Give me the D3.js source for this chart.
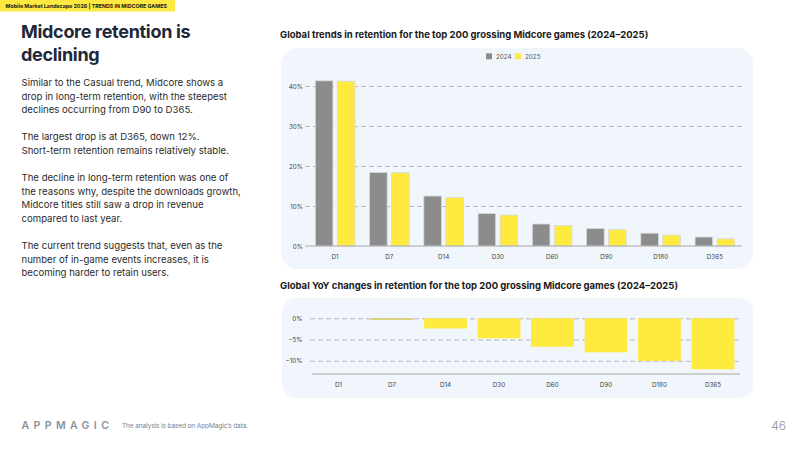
<!DOCTYPE html>
<html><head><meta charset="utf-8">
<script src="https://cdn.jsdelivr.net/npm/d3@7"></script>
<style>
html,body{margin:0;padding:0;background:#fff;}
svg{display:block;font-family:Inter,"Noto Sans",sans-serif;}
</style></head>
<body>
<svg id="c" width="800" height="450"></svg>
<script>
const categories = ["D1","D7","D14","D30","D60","D90","D180","D365"];
const seriesNames = ["2024","2025"];
const retention2024 = [41.3, 18.4, 12.5, 8.1, 5.5, 4.4, 3.2, 2.25];
const retention2025 = [41.2, 18.3, 12.1, 7.75, 5.1, 4.1, 2.75, 1.8];
const yoyChange = [0, -0.3, -2.4, -4.7, -6.7, -8.0, -10.0, -12.0];
const topTicks = [0, 10, 20, 30, 40];
const bottomTicks = [0, -5, -10];

const svg = d3.select("#c");
const GRAY = "#8c8c8c", YEL = "#ffea3f", BG = "#f1f6fc";

// header band
svg.append("rect").attr("x",0).attr("y",0).attr("width",175).attr("height",11.5).attr("fill","#ffe940");
svg.append("text").attr("x",5.5).attr("y",8.2).attr("font-size",5.3).attr("font-weight",700).attr("fill","#1a1a1a")
  .text("Mobile Market Landscape 2026 | TRENDS IN MIDCORE GAMES");

// title
const title = svg.append("text").attr("x",21).attr("font-size",18).attr("font-weight",700).attr("letter-spacing",-0.3).attr("fill","#222738");
title.append("tspan").attr("x",21).attr("y",38).text("Midcore retention is");
title.append("tspan").attr("x",21).attr("y",60.5).text("declining");

// body
const paras = [
  {y:86, lines:["Similar to the Casual trend, Midcore shows a","drop in long-term retention, with the steepest","declines occurring from D90 to D365."]},
  {y:140, lines:["The largest drop is at D365, down 12%.","Short-term retention remains relatively stable."]},
  {y:181, lines:["The decline in long-term retention was one of","the reasons why, despite the downloads growth,","Midcore titles still saw a drop in revenue","compared to last year."]},
  {y:249, lines:["The current trend suggests that, even as the","number of in-game events increases, it is","becoming harder to retain users."]}
];
paras.forEach(p=>{
  const t = svg.append("text").attr("font-size",9.6).attr("fill","#2b2b2b");
  p.lines.forEach((l,i)=>t.append("tspan").attr("x",21.5).attr("y",p.y+i*13.6).text(l));
});

// footer
svg.append("text").attr("x",21.5).attr("y",428.5).attr("font-size",10.5).attr("font-weight",600)
  .attr("letter-spacing",4.4).attr("fill","#8b909c").text("APPMAGIC");
svg.append("text").attr("x",122).attr("y",427.5).attr("font-size",6.6).attr("fill","#7c8290").attr("letter-spacing",-0.15)
  .text("The analysis is based on AppMagic\u2019s data.");
svg.append("text").attr("x",786).attr("y",430).attr("text-anchor","end").attr("font-size",12).attr("font-weight",300).attr("fill","#8b909c").text("46");

// chart titles
svg.append("text").attr("x",280).attr("y",37.5).attr("font-size",9.5).attr("font-weight",700).attr("fill","#1a1a1a")
  .text("Global trends in retention for the top 200 grossing Midcore games (2024\u20132025)");
svg.append("text").attr("x",280).attr("y",288.5).attr("font-size",9.5).attr("font-weight",700).attr("fill","#1a1a1a")
  .text("Global YoY changes in retention for the top 200 grossing Midcore games (2024\u20132025)");

// panels
svg.append("rect").attr("x",281).attr("y",48).attr("width",472).attr("height",221).attr("rx",16).attr("fill",BG);
svg.append("rect").attr("x",282).attr("y",298).attr("width",471).attr("height",100).attr("rx",14).attr("fill",BG);

// ---- top chart ----
const x0 = d3.scaleBand().domain(categories).range([308,742]).paddingInner(0.27).paddingOuter(0.135);
const x1 = d3.scaleBand().domain(seriesNames).range([0,x0.bandwidth()]).paddingInner(0.2);
const y = d3.scaleLinear().domain([0,40]).range([246,86]);

const gTop = svg.append("g");
const gy = gTop.append("g").attr("transform","translate(305,0)")
  .call(d3.axisLeft(y).tickValues(topTicks).tickSize(-437).tickFormat(d=>d+"%"));
gy.select(".domain").remove();
gy.selectAll(".tick line").attr("stroke","#b3b3b3").attr("stroke-dasharray","5,3").attr("stroke-width",0.9);
gy.selectAll(".tick text").attr("x",-2).attr("font-size",6.3).attr("fill","#444").attr("font-family","Inter,sans-serif");
gy.selectAll(".tick").filter(d=>d===0).select("line").remove();

const rows = categories.map((c,i)=>({c, vals:[{k:"2024",v:retention2024[i]},{k:"2025",v:retention2025[i]}]}));
const grp = gTop.selectAll("g.grp").data(rows).join("g").attr("transform",d=>`translate(${x0(d.c)},0)`);
grp.selectAll("rect").data(d=>d.vals).join("rect")
  .attr("x",d=>x1(d.k)).attr("width",x1.bandwidth())
  .attr("y",d=>y(d.v)).attr("height",d=>y(0)-y(d.v))
  .attr("fill",d=>d.k==="2024"?GRAY:YEL)
  .attr("stroke","#d6d9de").attr("stroke-width",0.8);

const gx = gTop.append("g").attr("transform","translate(0,246)")
  .call(d3.axisBottom(x0).tickSize(0).tickPadding(9));
gx.select(".domain").attr("d","M305,0H742").attr("stroke","#a8a8a8");
gx.selectAll(".tick text").attr("font-size",6.3).attr("fill","#444").attr("font-family","Inter,sans-serif");

// legend
const leg = svg.append("g");
const legX = {"2024":486, "2025":515};
seriesNames.forEach(k=>{
  leg.append("rect").attr("x",legX[k]).attr("y",53.3).attr("width",6).attr("height",6).attr("fill",k==="2024"?GRAY:YEL);
  leg.append("text").attr("x",legX[k]+10).attr("y",58.8).attr("font-size",6.3).attr("fill","#555").text(k);
});

// ---- bottom chart ----
const xb = d3.scaleBand().domain(categories).range([311.75,739.75]).paddingInner(0.2).paddingOuter(0.1);
const yb = d3.scaleLinear().domain([-13.1,0]).range([374,318.3]);
const gB = svg.append("g");
const gyb = gB.append("g").attr("transform","translate(310,0)")
  .call(d3.axisLeft(yb).tickValues(bottomTicks).tickSize(-430).tickFormat(d=>(d<0?"\u2212":"")+Math.abs(d)+"%"));
gyb.select(".domain").remove();
gyb.selectAll(".tick line").attr("stroke","#b3b3b3").attr("stroke-dasharray","5,3").attr("stroke-width",0.9);
gyb.selectAll(".tick text").attr("x",-7.5).attr("font-size",6.3).attr("fill","#444").attr("font-family","Inter,sans-serif");

gB.selectAll("rect.yoy").data(categories.map((c,i)=>({c,v:yoyChange[i]}))).join("rect").attr("class","yoy")
  .attr("x",d=>xb(d.c)).attr("width",xb.bandwidth())
  .attr("y",yb(0)).attr("height",d=>yb(d.v)-yb(0))
  .attr("fill",YEL).attr("stroke",d=>d.v>-1?"#c9c48a":"none").attr("stroke-width",0.6);

const gxb = gB.append("g").attr("transform","translate(0,374)")
  .call(d3.axisBottom(xb).tickSize(0).tickPadding(9));
gxb.select(".domain").attr("d","M312,0H740").attr("stroke","#a8a8a8");
gxb.selectAll(".tick text").attr("font-size",6.3).attr("fill","#444").attr("font-family","Inter,sans-serif");
</script>
</body></html>
